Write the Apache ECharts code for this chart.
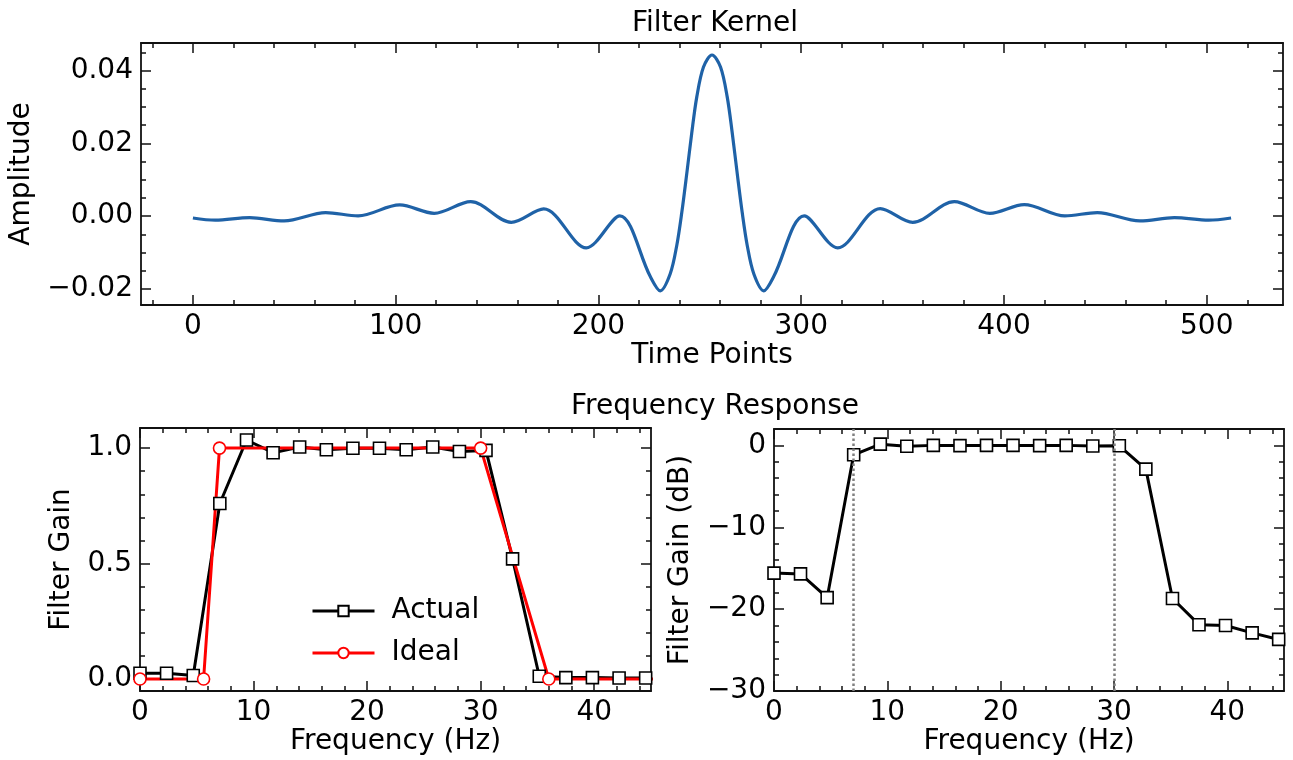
<!DOCTYPE html>
<html><head><meta charset="utf-8">
<script src="https://cdn.jsdelivr.net/npm/echarts@6/dist/echarts.min.js"></script>
<style>html,body{margin:0;padding:0;background:#fff}#c{width:1293px;height:760px}</style>
</head><body><div id="c"></div>
<script>
// ---- data ----
const kernelT = [0, 11, 28, 45, 65.5, 81.5, 102, 119, 137, 157, 173, 194, 210.5, 225.5, 230.5, 235.4, 238.6, 241.1, 243.6, 246, 248.5, 251.8, 256, 260.2, 263.5, 266, 268.4, 270.9, 273.4, 276.6, 281.5, 286.5, 301.5, 318, 339, 355, 375.5, 393, 410, 430, 446, 467, 484, 501, 512];
const kernelV = [-0.0005, -0.0011, -0.0004, -0.0013, 0.0010, 0.0001, 0.0031, 0.0008, 0.0040, -0.0017, 0.0020, -0.0087, 0.0001, -0.0165, -0.0205, -0.0158, -0.0081, 0.0010, 0.0119, 0.0228, 0.0328, 0.0410, 0.0443, 0.0410, 0.0328, 0.0228, 0.0119, 0.0010, -0.0081, -0.0158, -0.0205, -0.0165, 0.0001, -0.0087, 0.0021, -0.0017, 0.0040, 0.0008, 0.0032, 0.0001, 0.0010, -0.0013, -0.0004, -0.0011, -0.0005];

const freqActual = [0, 2.34, 4.69, 7.03, 9.38, 11.72, 14.06, 16.41, 18.75, 21.09, 23.44, 25.78, 28.13, 30.47, 32.81, 35.16, 37.5, 39.84, 42.19, 44.53];
const gainActual = [0.025, 0.025, 0.015, 0.76, 1.035, 0.98, 1.005, 0.993, 0.999, 0.999, 0.993, 1.005, 0.985, 0.99, 0.52, 0.012, 0.006, 0.006, 0.004, 0.004];
const gainDb = [-15.6, -15.7, -18.6, -1.15, 0.15, -0.1, 0.0, -0.03, 0.0, 0.0, -0.03, 0.0, -0.07, -0.05, -2.9, -18.7, -21.9, -22.0, -22.9, -23.7];
const freqIdeal = [0, 5.6, 7, 30, 36, 300];
const gainIdeal = [0, 0, 1, 1, 0, 0];
const bandEdges = [7, 30];

// ---- tick positions / labels ----
const kernelXTicks = [0, 100, 200, 300, 400, 500];
const kernelXMinor = [-20, 20, 40, 60, 80, 120, 140, 160, 180, 220, 240, 260, 280, 320, 340, 360, 380, 420, 440, 460, 480, 520];
const kernelYTicks = [-0.02, 0, 0.02, 0.04];
const kernelYMinor = [-0.015, -0.01, -0.005, 0.005, 0.01, 0.015, 0.025, 0.03, 0.035, 0.045];
const freqTicks = [0, 10, 20, 30, 40];
const freqMinor = [2, 4, 6, 8, 12, 14, 16, 18, 22, 24, 26, 28, 32, 34, 36, 38, 42, 44];
const gainTicks = [0, 0.5, 1.0];
const gainMinor = [0.1, 0.2, 0.3, 0.4, 0.6, 0.7, 0.8, 0.9];
const dbTicks = [-30, -20, -10, 0];
const dbMinor = [-28, -26, -24, -22, -18, -16, -14, -12, -8, -6, -4, -2];

const FONT = 'DejaVu Sans';
const FS = 28;
const minus = s => String(s).replace('-', '\u2212');

function axes(dim, grid, min, max, majors, minors, fmt, name, nameGap) {
  const pos = dim === 'x' ? ['bottom', 'top'] : ['left', 'right'];
  const mk = (position, vals, len, labelled, line) => ({
    type: 'value', gridIndex: grid, min: min, max: max, position: position,
    name: labelled ? name : '', nameLocation: 'middle', nameGap: nameGap,
    nameTextStyle: {fontFamily: FONT, fontSize: FS, color: '#000'},
    axisLine: {show: line, onZero: false, lineStyle: {color: '#111', width: 1.8}},
    axisTick: {show: true, inside: true, length: len, customValues: vals, lineStyle: {color: '#111', width: 1.5}},
    axisLabel: labelled ? {show: true, customValues: majors, formatter: fmt, fontFamily: FONT, fontSize: FS, color: '#000', margin: 8} : {show: false},
    splitLine: {show: false}, minorTick: {show: false}
  });
  return [
    mk(pos[0], majors, 10, true, true),
    mk(pos[0], minors, 5, false, false),
    mk(pos[1], majors, 10, false, true),
    mk(pos[1], minors, 5, false, false)
  ];
}
const zip = (a, b) => a.map((v, i) => [v, b[i]]);

const xAxis = [].concat(
  axes('x', 0, -25.6, 537.6, kernelXTicks, kernelXMinor, v => minus(v), 'Time Points', 35),
  axes('x', 1, 0, 45, freqTicks, freqMinor, v => minus(v), 'Frequency (Hz)', 35),
  axes('x', 2, 0, 45, freqTicks, freqMinor, v => minus(v), 'Frequency (Hz)', 35)
);
const yAxis = [].concat(
  axes('y', 0, -0.0244, 0.0476, kernelYTicks, kernelYMinor, v => minus(v.toFixed(2)), 'Amplitude', 105),
  axes('y', 1, -0.052, 1.087, gainTicks, gainMinor, v => minus(v.toFixed(1)), 'Filter Gain', 64),
  axes('y', 2, -30, 2, dbTicks, dbMinor, v => minus(v), 'Filter Gain (dB)', 79)
);

const chart = echarts.init(document.getElementById('c'), null, {renderer: 'canvas'});
chart.setOption({
  animation: false,
  backgroundColor: '#fff',
  title: [
    {text: 'Filter Kernel', left: 710, textAlign: 'center', top: 5, textStyle: {fontFamily: FONT, fontSize: FS, fontWeight: 'normal', color: '#000'}},
    {text: 'Frequency Response', left: 710, textAlign: 'center', top: 388, textStyle: {fontFamily: FONT, fontSize: FS, fontWeight: 'normal', color: '#000'}}
  ],
  grid: [
    {left: 140, top: 43, width: 1143, height: 262},
    {left: 140, top: 428, width: 511, height: 263},
    {left: 774, top: 429, width: 510, height: 262}
  ],
  xAxis: xAxis,
  yAxis: yAxis,
  legend: {
    data: ['Actual', 'Ideal'], orient: 'vertical', left: 306, top: 592,
    itemWidth: 62, itemHeight: 13, itemGap: 14,
    lineStyle: {width: 3},
    textStyle: {fontFamily: FONT, fontSize: FS, color: '#000', padding: [0, 0, 0, 12]}
  },
  series: [
    {type: 'line', name: 'Kernel', xAxisIndex: 0, yAxisIndex: 0, data: zip(kernelT, kernelV),
     showSymbol: false, smooth: 0.33, lineStyle: {color: '#1f62a7', width: 3.2}, itemStyle: {color: '#1f62a7'}},
    {type: 'line', name: 'Actual', xAxisIndex: 4, yAxisIndex: 4, data: zip(freqActual, gainActual),
     symbol: 'rect', symbolSize: 12, lineStyle: {color: '#000', width: 3},
     itemStyle: {color: '#fff', borderColor: '#000', borderWidth: 1.6}},
    {type: 'line', name: 'Ideal', xAxisIndex: 4, yAxisIndex: 4, data: zip(freqIdeal, gainIdeal),
     symbol: 'circle', symbolSize: 12, lineStyle: {color: '#ff0000', width: 3},
     itemStyle: {color: '#fff', borderColor: '#ff0000', borderWidth: 1.6}},
    {type: 'line', name: 'dB', xAxisIndex: 8, yAxisIndex: 8, data: zip(freqActual, gainDb),
     symbol: 'rect', symbolSize: 12, lineStyle: {color: '#000', width: 3},
     itemStyle: {color: '#fff', borderColor: '#000', borderWidth: 1.6},
     markLine: {silent: true, symbol: ['none', 'none'], label: {show: false},
       lineStyle: {type: 'dotted', color: '#808080', width: 2.5},
       data: bandEdges.map(v => ({xAxis: v}))}}
  ]
});
</script></body></html>
